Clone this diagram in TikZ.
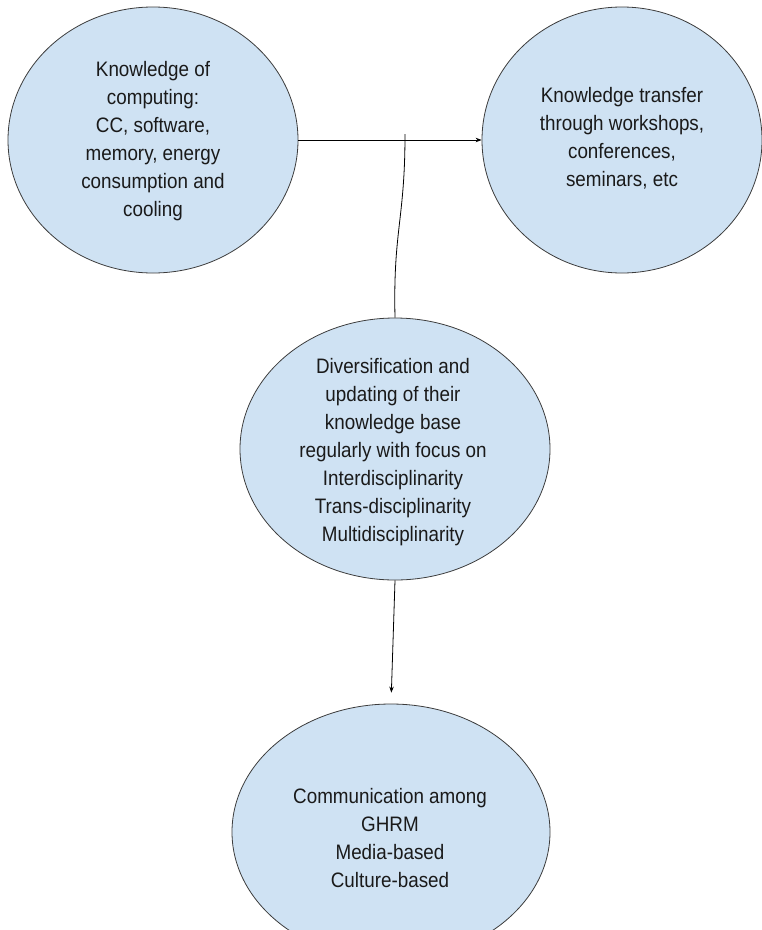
\documentclass[tikz,border=0pt]{standalone}
\usepackage{fontspec}
\setmainfont{Liberation Sans}[FakeStretch=0.9]
\usetikzlibrary{shapes.geometric,arrows.meta}
\definecolor{fillblue}{HTML}{CFE2F3}
\definecolor{edgegray}{HTML}{3C3C3C}
\definecolor{txtcol}{HTML}{1A1A1A}
\begin{document}
\begin{tikzpicture}[x=1bp,y=-1bp,
  bubble/.style={ellipse, draw=edgegray, fill=fillblue, line width=0.8bp, inner sep=0pt},
  txt/.style={align=center, font=\fontsize{21}{28}\selectfont, text=txtcol, inner sep=0pt},
  link/.style={line width=0.8bp, black},
  tip/.style={-{Stealth[length=6bp,width=4.5bp]}}]
\useasboundingbox (0,0) rectangle (762,930);
\clip (0,0) rectangle (762,930);
\node[bubble, minimum width=290bp, minimum height=266bp] (a) at (153,140) {};
\node[txt] (ta) at (153,141) {Knowledge of\\computing:\\CC, software,\\memory, energy\\consumption and\\cooling};
\node[bubble, minimum width=280bp, minimum height=266bp] (b) at (622,140) {};
\node[txt] (tb) at (622,138) {Knowledge transfer\\through workshops,\\conferences,\\seminars, etc};
\node[bubble, minimum width=310bp, minimum height=262bp] (c) at (395,449) {};
\node[txt] (tc) at (393,452) {Diversification and\\updating of their\\knowledge base\\regularly with focus on\\Interdisciplinarity\\Trans-disciplinarity\\Multidisciplinarity};
\node[bubble, minimum width=318bp, minimum height=256bp] (d) at (391,832) {};
\node[txt] (td) at (390,838) {Communication among\\GHRM\\Media-based\\Culture-based};
\coordinate (j) at (405,134);
\draw[link, tip] (a.east) -- (b.west);
\draw[link] (c.north) .. controls (393,230) and (405,220) .. (j);
\draw[link, tip, shorten >=11bp] (c.south) -- (d.north);
\end{tikzpicture}
\end{document}
